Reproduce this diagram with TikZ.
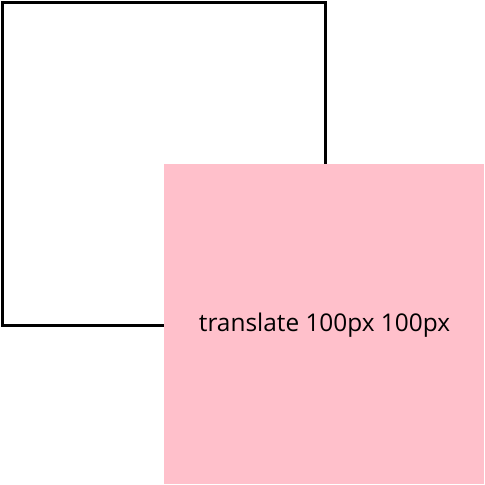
\documentclass[tikz,border=0pt]{standalone}
\usepackage{fontspec}
\setmainfont{Open Sans}
\definecolor{cpink}{HTML}{FFC0CB}
\begin{document}
\begin{tikzpicture}[x=1pt,y=-1pt,
  outline/.style={draw=black,line width=3pt},
  pinkbox/.style={fill=cpink,draw=none},
  lbl/.style={font=\fontsize{24.4}{29}\selectfont,text=black,inner sep=0pt}]
\useasboundingbox (0,0) rectangle (485,485);
\draw[outline] (2.5,2.5) rectangle (325,325);
\fill[pinkbox] (164,164) rectangle (484,484);
\node[lbl] (t) at (324.5,325) {translate 100px 100px};
\end{tikzpicture}
\end{document}
